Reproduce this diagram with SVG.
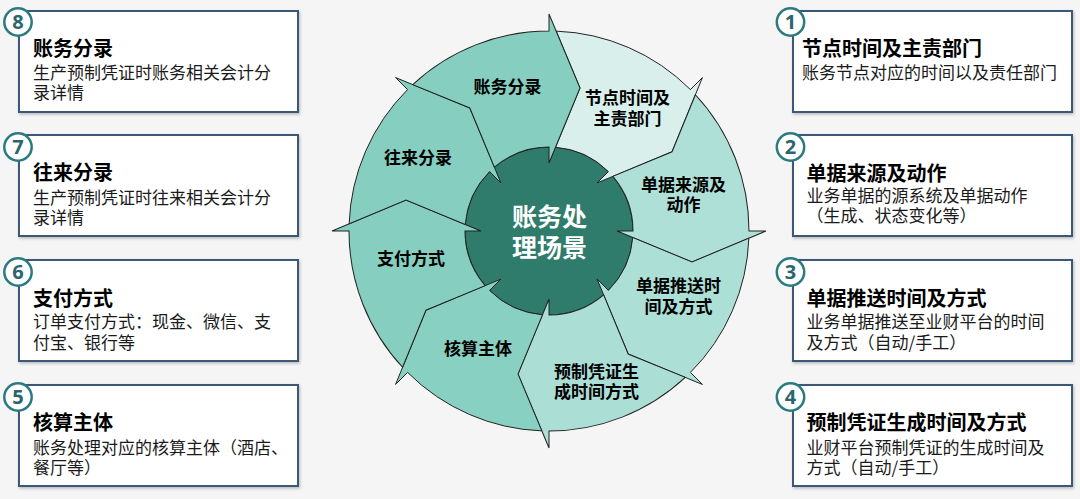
<svg xmlns="http://www.w3.org/2000/svg" xmlns:xlink="http://www.w3.org/1999/xlink" width="1080" height="499" viewBox="0 0 1080 499">
<style>
.ring{stroke:#222;stroke-width:1;stroke-linejoin:miter}
.lbl{font-family:"Noto Sans CJK SC","Noto Sans",sans-serif;font-size:17px;font-weight:bold;fill:#000;text-anchor:middle}
.ctr{font-family:"Noto Sans CJK SC","Noto Sans",sans-serif;font-size:25px;font-weight:bold;fill:#fff;text-anchor:middle}
.box{fill:#fff;stroke:#3b5878;stroke-width:2}
.badge{fill:#fff;stroke:#2b7a80;stroke-width:2.5}
.num{font-family:"Noto Sans","Liberation Sans",sans-serif;font-size:20px;font-weight:bold;fill:#2a666d;text-anchor:middle}
.ttl{font-family:"Noto Sans CJK SC","Noto Sans",sans-serif;font-size:20px;font-weight:bold;fill:#000}
.dsc{font-family:"Noto Sans CJK SC","Noto Sans",sans-serif;font-size:17px;fill:#1a1a1a}
</style>
<defs>
<filter id="sh" x="-5%" y="-5%" width="110%" height="115%">
<feDropShadow dx="1" dy="1.5" stdDeviation="1.5" flood-color="#000" flood-opacity="0.25"/>
</filter>
<path id="seg" d="M7.18 -199.87 A200 200 0 0 1 141.42 -141.42 L153.44 -153.44 L123.04 -79.2 L48.08 -48.08 L59.4 -59.4 A84 84 0 0 0 6.51 -83.75 L31 -143 Z"/>
</defs>
<rect x="0" y="0" width="1080" height="499" fill="#f5f5f5"/>

<g id="center">
<circle cx="549" cy="231" r="84" fill="#2f7b6c" stroke="#222" stroke-width="1"/>
</g>

<g id="seg-1"><use href="#seg" class="ring" fill="#d8efeb" transform="translate(549 231) rotate(0)"/></g>
<g id="seg-2"><use href="#seg" class="ring" fill="#afe0d7" transform="translate(549 231) rotate(45)"/></g>
<g id="seg-3"><use href="#seg" class="ring" fill="#acdfd5" transform="translate(549 231) rotate(90)"/></g>
<g id="seg-4"><use href="#seg" class="ring" fill="#abded5" transform="translate(549 231) rotate(135)"/></g>
<g id="seg-5"><use href="#seg" class="ring" fill="#88d0c1" transform="translate(549 231) rotate(180)"/></g>
<g id="seg-6"><use href="#seg" class="ring" fill="#86cfc0" transform="translate(549 231) rotate(225)"/></g>
<g id="seg-7"><use href="#seg" class="ring" fill="#86cfc0" transform="translate(549 231) rotate(270)"/></g>
<g id="seg-8"><use href="#seg" class="ring" fill="#86cfc0" transform="translate(549 231) rotate(315)"/></g>

<g id="labels">
<text class="ctr" x="549.5" y="225.5">账务处<tspan x="549.5" dy="31.5">理场景</tspan></text>
<text class="lbl" x="507.5" y="93">账务分录</text>
<text class="lbl" x="627.5" y="104">节点时间及<tspan x="627.5" dy="21">主责部门</tspan></text>
<text class="lbl" x="683.5" y="191">单据来源及<tspan x="683.5" dy="20">动作</tspan></text>
<text class="lbl" x="678.5" y="292">单据推送时<tspan x="678.5" dy="21">间及方式</tspan></text>
<text class="lbl" x="596.5" y="378">预制凭证生<tspan x="596.5" dy="20">成时间方式</tspan></text>
<text class="lbl" x="478" y="355">核算主体</text>
<text class="lbl" x="411" y="265">支付方式</text>
<text class="lbl" x="418" y="164">往来分录</text>
</g>

<g id="box-8">
<rect class="box" x="19" y="11" width="279" height="101" filter="url(#sh)"/>
<circle class="badge" cx="18" cy="22" r="13.7"/>
<text class="num" x="18" y="29">8</text>
<text class="ttl" x="33" y="55.6">账务分录</text>
<text class="dsc" x="33" y="78.5">生产预制凭证时账务相关会计分<tspan x="33" dy="20.5">录详情</tspan></text>
</g>
<g id="box-7">
<rect class="box" x="19" y="135" width="279" height="101" filter="url(#sh)"/>
<circle class="badge" cx="18" cy="147" r="13.7"/>
<text class="num" x="18" y="154">7</text>
<text class="ttl" x="33" y="179.6">往来分录</text>
<text class="dsc" x="33" y="203.5">生产预制凭证时往来相关会计分<tspan x="33" dy="20.5">录详情</tspan></text>
</g>
<g id="box-6">
<rect class="box" x="19" y="260" width="279" height="101" filter="url(#sh)"/>
<circle class="badge" cx="18" cy="272" r="13.7"/>
<text class="num" x="18" y="279">6</text>
<text class="ttl" x="33" y="305.6">支付方式</text>
<text class="dsc" x="33" y="327.5">订单支付方式：现金、微信、支<tspan x="33" dy="21">付宝、银行等</tspan></text>
</g>
<g id="box-5">
<rect class="box" x="19" y="385" width="279" height="101" filter="url(#sh)"/>
<circle class="badge" cx="18" cy="397" r="13.7"/>
<text class="num" x="18" y="404">5</text>
<text class="ttl" x="33" y="429.6">核算主体</text>
<text class="dsc" x="33" y="453.5">账务处理对应的核算主体（酒店、<tspan x="33" dy="20">餐厅等）</tspan></text>
</g>

<g id="box-1">
<rect class="box" x="793" y="11" width="279" height="101" filter="url(#sh)"/>
<circle class="badge" cx="790.5" cy="22" r="13.7"/>
<text class="num" x="790.5" y="29">1</text>
<text class="ttl" x="802" y="55.6">节点时间及主责部门</text>
<text class="dsc" x="802" y="78.5">账务节点对应的时间以及责任部门</text>
</g>
<g id="box-2">
<rect class="box" x="793" y="135" width="279" height="101" filter="url(#sh)"/>
<circle class="badge" cx="790.5" cy="147" r="13.7"/>
<text class="num" x="790.5" y="154">2</text>
<text class="ttl" x="806.5" y="180.6">单据来源及动作</text>
<text class="dsc" x="806.5" y="201.5">业务单据的源系统及单据动作<tspan x="806.5" dy="20">（生成、状态变化等）</tspan></text>
</g>
<g id="box-3">
<rect class="box" x="793" y="260" width="279" height="101" filter="url(#sh)"/>
<circle class="badge" cx="790.5" cy="272" r="13.7"/>
<text class="num" x="790.5" y="279">3</text>
<text class="ttl" x="806.5" y="305.6">单据推送时间及方式</text>
<text class="dsc" x="806.5" y="327.5">业务单据推送至业财平台的时间<tspan x="806.5" dy="21">及方式（自动/手工）</tspan></text>
</g>
<g id="box-4">
<rect class="box" x="793" y="385" width="279" height="101" filter="url(#sh)"/>
<circle class="badge" cx="790.5" cy="397" r="13.7"/>
<text class="num" x="790.5" y="404">4</text>
<text class="ttl" x="806.5" y="429.6">预制凭证生成时间及方式</text>
<text class="dsc" x="806.5" y="453.5">业财平台预制凭证的生成时间及<tspan x="806.5" dy="20">方式（自动/手工）</tspan></text>
</g>
</svg>
